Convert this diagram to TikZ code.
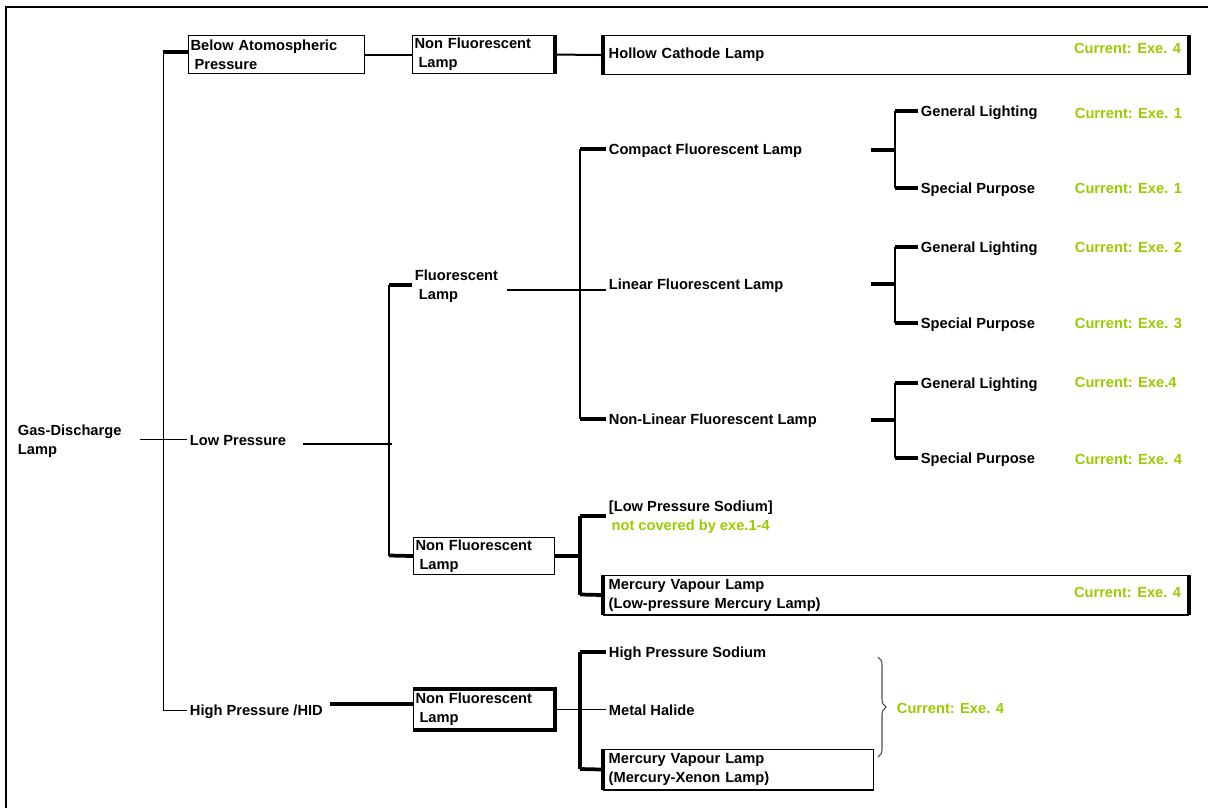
\documentclass[tikz,border=0pt]{standalone}
\usepackage{fontspec}
\setmainfont{Liberation Sans}
\usetikzlibrary{decorations.pathreplacing}
\definecolor{exegreen}{RGB}{153,204,0}
\begin{document}
\begin{tikzpicture}[x=0.75pt,y=-0.75pt,
  every node/.style={font=\bfseries\fontsize{11}{14.2}\selectfont},
  lbl/.style={anchor=west,inner xsep=2pt,inner ysep=0pt,align=left,yshift=-1pt},
  cur/.style={lbl,text=exegreen},
  box/.style={draw,anchor=north west,inner xsep=1.5pt,inner ysep=0pt,align=left,line width=0.8pt},
  lnA/.style={line width=0.75pt},
  lnB/.style={line width=1.5pt},
  lnC/.style={line width=2.8pt}]
\useasboundingbox (0,0) rectangle (1208,808);
% frame
\draw[line width=1.6pt] (6,808) -- (6,7) -- (1208,7);

% nodes
\node[lbl] (root) at (15,439.5) {Gas-Discharge\\Lamp};
\node[lbl] (low) at (187,439) {Low Pressure};
\node[lbl] (hid) at (187,710) {High Pressure /HID};
\node[box,minimum width=132pt,minimum height=28.5pt,text width=129pt] (bap) at (188,35) {Below Atomospheric\\\hspace*{3pt}Pressure};
\node[box,minimum width=106.5pt,minimum height=28.5pt,text width=103.5pt] (nf1) at (412,35) {Non Fluorescent\\\hspace*{3pt}Lamp};
\node[box,minimum width=438.75pt,minimum height=29.25pt,text width=431pt,inner xsep=3.9pt] (hcl) at (603,35) {Hollow Cathode Lamp};
\node[cur,anchor=east] (c0) at (1184,47) {Current: Exe. 4};

\node[lbl] (fl) at (412,285) {Fluorescent\\\hspace*{3pt}Lamp};
\node[lbl] (cfl) at (606,149) {Compact Fluorescent Lamp};
\node[lbl] (lfl) at (606,284) {Linear Fluorescent Lamp};
\node[lbl] (nlfl) at (606,419) {Non-Linear Fluorescent Lamp};

\node[lbl] (gl1) at (918,111) {General Lighting};
\node[lbl] (sp1) at (918,188) {Special Purpose};
\node[lbl] (gl2) at (918,247) {General Lighting};
\node[lbl] (sp2) at (918,323) {Special Purpose};
\node[lbl] (gl3) at (918,383) {General Lighting};
\node[lbl] (sp3) at (918,458) {Special Purpose};
\node[cur] (c1) at (1072,112) {Current: Exe. 1};
\node[cur] (c2) at (1072,187) {Current: Exe. 1};
\node[cur] (c3) at (1072,246) {Current: Exe. 2};
\node[cur] (c4) at (1072,322) {Current: Exe. 3};
\node[cur] (c5) at (1072,381) {Current: Exe.4};
\node[cur] (c6) at (1072,458) {Current: Exe. 4};

\node[box,minimum width=105.75pt,minimum height=27.75pt,text width=102.75pt] (nf2) at (413,537) {Non Fluorescent\\\hspace*{3pt}Lamp};
\node[lbl] (lps) at (606,516) {[Low Pressure Sodium]\\\hspace*{2pt}\textcolor{exegreen}{not covered by exe.1-4}};
\node[box,minimum width=438.75pt,minimum height=29.25pt,text width=431pt,inner xsep=3.9pt] (mvl1) at (603,575) {Mercury Vapour Lamp\\(Low-pressure Mercury Lamp)};
\node[cur,anchor=east] (c7) at (1184,591) {Current: Exe. 4};

\node[box,minimum width=105.75pt,minimum height=30pt,text width=102.75pt] (nf3) at (413,689) {Non Fluorescent\\\hspace*{3pt}Lamp};
\node[lbl] (hps) at (606,652) {High Pressure Sodium};
\node[lbl] (mh) at (606,709) {Metal Halide};
\node[box,minimum width=202.5pt,minimum height=30pt,text width=194.7pt,inner xsep=3.9pt] (mvl2) at (603,749) {Mercury Vapour Lamp\\(Mercury-Xenon Lamp)};
\node[cur] (c8) at (894,707) {Current: Exe. 4};

% junction coordinates
\coordinate (r0) at (140,439);
\coordinate (va) at (163,52);
\coordinate (vb) at (163,710);
\coordinate (lowend) at (303,444);
\coordinate (v2a) at (389,285);
\coordinate (v2b) at (389,555.5);
\coordinate (flend) at (507,290);
\coordinate (v3a) at (580,149);
\coordinate (v3b) at (580,419);
\coordinate (v4a) at (580,516);
\coordinate (v4b) at (580,594.5);
\coordinate (hidend) at (330,704);
\coordinate (v5a) at (580,652);
\coordinate (v5b) at (580,769);

% connectors
\draw[lnA] (r0) -- (r0 -| low.west);
\draw[lnA] (va) -- (vb);
\draw[lnC] (va) -- (va -| bap.west);
\draw[lnA] (vb) -- (vb -| hid.west);
\draw[lnB] (bap.east) -- (nf1.west);
\draw[lnB] (nf1.east) -- (hcl.west);
\draw[lnC] (nf1.north east) -- (nf1.south east);
\draw[lnC] (hcl.north west) -- (hcl.south west);
\draw[lnC] (hcl.north east) -- (hcl.south east);

\draw[lnB] (lowend) -- ([xshift=2.25pt]lowend -| v2a);
\draw[lnB] (v2a) -- (v2b);
\draw[lnC] (v2a) -- (v2a -| fl.west);
\draw[lnC] (v2b) -- (nf2.west);
\draw[lnB] (flend) -- (flend -| lfl.west);
\draw[lnB] (v3a) -- (v3b);
\draw[lnC] (v3a) -- (v3a -| cfl.west);
\draw[lnC] (v3b) -- (v3b -| nlfl.west);

\foreach \n/\y/\g/\s/\gy/\sy in {1/150/gl1/sp1/111/188, 2/284/gl2/sp2/247/323, 3/420/gl3/sp3/383/458}{
  \coordinate (s\n) at (871,\y);
  \coordinate (t\n) at (895,\y);
  \coordinate (tg\n) at (895,\gy);
  \coordinate (ts\n) at (895,\sy);
  \draw[lnC] (s\n) -- (t\n);
  \draw[lnB] (tg\n) -- (ts\n);
  \draw[lnC] (tg\n) -- (tg\n -| \g.west);
  \draw[lnC] (ts\n) -- (ts\n -| \s.west);
}

\draw[lnC] (nf2.east) -- (nf2.east -| v4a);
\draw[lnC] (v4a) -- (v4b);
\draw[lnC] (v4a) -- (v4a -| lps.west);
\draw[lnC] (v4b) -- (mvl1.west);
\draw[lnC] (mvl1.north west) -- (mvl1.south west);
\draw[lnC] (mvl1.north east) -- (mvl1.south east);
\draw[lnB] (mvl1.south west) -- (mvl1.south east);

\draw[lnC] (hidend) -- (hidend -| nf3.west);
\draw[lnC] (nf3.north west) -- (nf3.north east) -- (nf3.south east) -- (nf3.south west);
\draw[lnA] (nf3.east) -- (nf3.east -| mh.west);
\draw[lnC] (v5a) -- (v5b);
\draw[lnC] (v5a) -- (v5a -| hps.west);
\draw[lnC] (v5b) -- (mvl2.west);
\draw[lnC] (mvl2.north west) -- (mvl2.south west);
\draw[lnB] (mvl2.south west) -- (mvl2.south east);

\draw[gray!60!black,line width=0.8pt,decorate,decoration={brace,amplitude=6pt}] (878,657) -- (878,757);
\end{tikzpicture}
\end{document}
